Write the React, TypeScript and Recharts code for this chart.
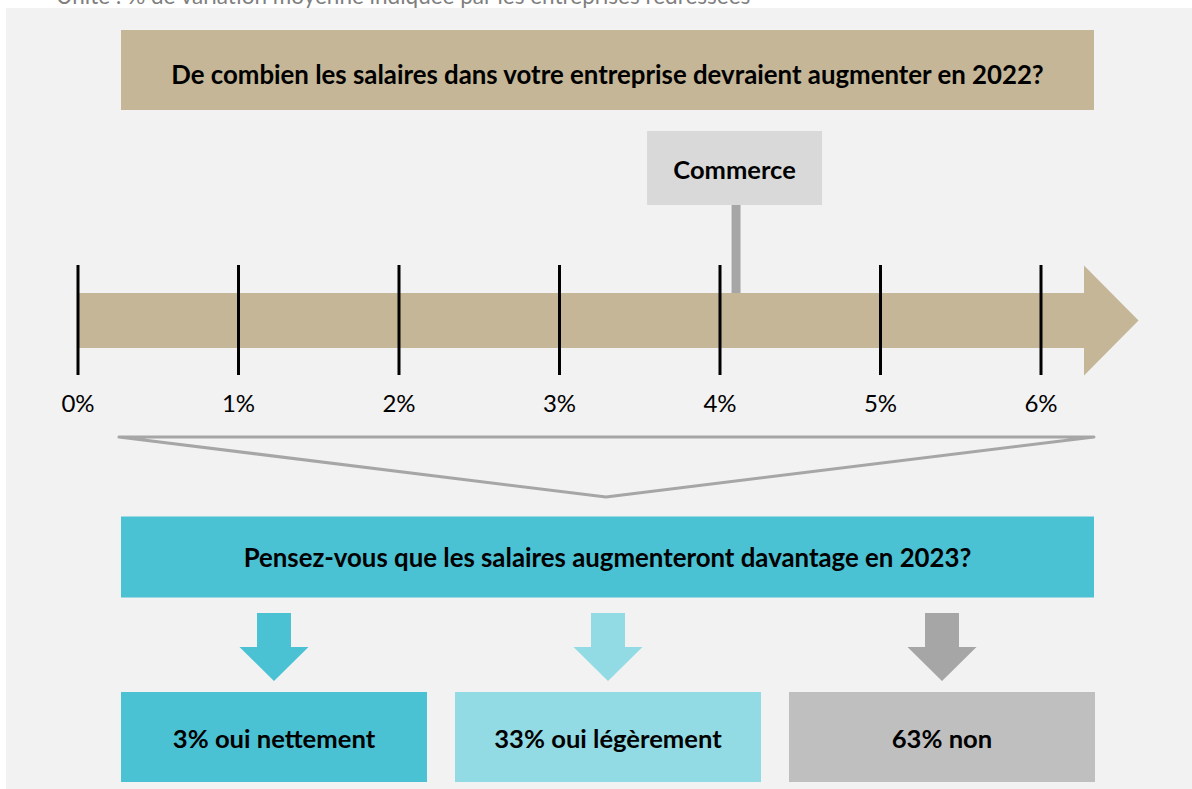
import React from "react";
import { ComposedChart, XAxis, YAxis, Scatter } from "recharts";

const caption = "Unité : % de variation moyenne indiquée par les entreprises redressées";
const question2022 = "De combien les salaires dans votre entreprise devraient augmenter en 2022?";
const question2023 = "Pensez-vous que les salaires augmenteront davantage en 2023?";

const scaleTicks = [0, 1, 2, 3, 4, 5, 6];
const sectors = ["Commerce"];
const sectorIncrease = [4.1];

const answerLabels = ["oui nettement", "oui légèrement", "non"];
const answerShares = [3, 33, 63];
const answerColors = ["#4ac2d4", "#92dbe4", "#bfbfbf"];
const arrowColors = ["#4ac2d4", "#92dbe4", "#a6a6a6"];

const FONT = "Lato, 'Open Sans', sans-serif";
const BEIGE = "#c4b696";

const markerData = sectors.map((name, i) => ({ name, value: sectorIncrease[i], y: 0.5 }));

const ScaleTick = (props: any) => {
  const { x, payload } = props;
  return (
    <g>
      <line x1={x} x2={x} y1={265} y2={375} stroke="#000" strokeWidth={3} />
      <text x={x} y={402} textAnchor="middle" dominantBaseline="central" fontFamily={FONT} fontSize={24} fill="#000">
        {payload.value}%
      </text>
    </g>
  );
};

const SectorMarker = (props: any) => {
  const { cx, payload } = props;
  return (
    <g>
      <rect x={cx - 4.5} y={205} width={9} height={88} fill="#a6a6a6" />
      <rect x={cx - 89} y={131} width={175} height={74} fill="#d9d9d9" />
      <text x={cx - 1.5} y={169} textAnchor="middle" dominantBaseline="central" fontFamily={FONT} fontWeight={700} fontSize={25.5} fill="#000">
        {payload.name}
      </text>
    </g>
  );
};

const DownArrow = ({ cx, color }: { cx: number; color: string }) => (
  <polygon
    points={`${cx - 17},613 ${cx + 17},613 ${cx + 17},647 ${cx + 34.5},647 ${cx},681 ${cx - 34.5},647 ${cx - 17},647`}
    fill={color}
  />
);

export default function App() {
  const boxW = 306;
  const boxX = [121, 455, 789];
  return (
    <div style={{ position: "absolute", left: 0, top: 0, width: 1192, height: 789, background: "#fff", overflow: "hidden" }}>
      <svg width={1192} height={789} style={{ position: "absolute", left: 0, top: 0 }}>
        <text x={56} y={4} fontFamily={FONT} fontSize={22.5} fill="#7f7f7f">
          {caption}
        </text>
        <rect x={6} y={8} width={1186} height={781} fill="#f2f2f2" />
        <rect x={121} y={30} width={973} height={80} fill={BEIGE} />
        <text x={607.5} y={74} textAnchor="middle" dominantBaseline="central" fontFamily={FONT} fontWeight={700} fontSize={25.8} fill="#000">
          {question2022}
        </text>
        <polygon points="78,293 1084,293 1084,265.5 1138.5,320.5 1084,375.5 1084,348 78,348" fill={BEIGE} />
        <polygon points="119,437 1094,437 606,497" fill="none" stroke="#a6a6a6" strokeWidth={3} strokeLinejoin="round" />
        <rect x={121} y={516.5} width={973} height={81} fill="#4ac2d4" />
        <text x={607.5} y={557} textAnchor="middle" dominantBaseline="central" fontFamily={FONT} fontWeight={700} fontSize={25.8} fill="#000">
          {question2023}
        </text>
        {answerLabels.map((label, i) => (
          <g key={label}>
            <DownArrow cx={boxX[i] + boxW / 2} color={arrowColors[i]} />
            <rect x={boxX[i]} y={692} width={boxW} height={90} fill={answerColors[i]} />
            <text x={boxX[i] + boxW / 2} y={738} textAnchor="middle" dominantBaseline="central" fontFamily={FONT} fontWeight={700} fontSize={25.6} fill="#000">
              {answerShares[i]}% {label}
            </text>
          </g>
        ))}
      </svg>
      <div style={{ position: "absolute", left: 0, top: 0 }}>
        <ComposedChart width={1192} height={789} data={markerData} margin={{ top: 0, right: 151, left: 78, bottom: 0 }}>
          <XAxis
            type="number"
            dataKey="value"
            domain={[0, 6]}
            ticks={scaleTicks}
            interval={0}
            axisLine={false}
            tickLine={false}
            tick={<ScaleTick />}
            height={1}
          />
          <YAxis type="number" dataKey="y" domain={[0, 1]} hide />
          <Scatter data={markerData} dataKey="y" shape={<SectorMarker />} isAnimationActive={false} />
        </ComposedChart>
      </div>
    </div>
  );
}
